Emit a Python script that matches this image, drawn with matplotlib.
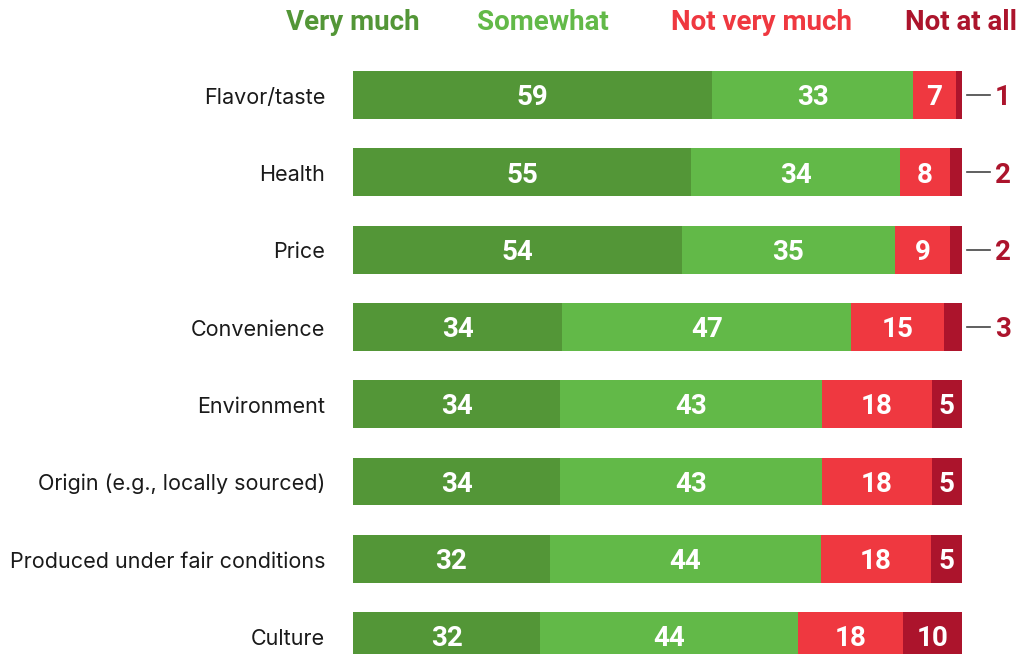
import matplotlib.pyplot as plt
import numpy as np

plt.rcParams['font.family'] = ['Roboto', 'DejaVu Sans']

# Survey answers, percent of respondents
categories = ["Flavor/taste", "Health", "Price", "Convenience", "Environment",
              "Origin (e.g., locally sourced)", "Produced under fair conditions",
              "Culture"]
very_much = [59, 55, 54, 34, 34, 34, 32, 32]
somewhat = [33, 34, 35, 47, 43, 43, 44, 44]
not_very_much = [7, 8, 9, 15, 18, 18, 18, 18]
not_at_all = [1, 2, 2, 3, 5, 5, 5, 10]

series_names = ["Very much", "Somewhat", "Not very much", "Not at all"]
colors = ["#539637", "#62b948", "#ef3840", "#ac142c"]

W, H = 1022, 654
fig = plt.figure(figsize=(W / 100, H / 100), dpi=100)

# axes spans the bar area horizontally, full height vertically
x0, x1 = 353, 962
ax = fig.add_axes([x0 / W, 0, (x1 - x0) / W, 1])
row0, step = 95, 77.3
ax.set_ylim((H - row0) / step, -row0 / step)
ax.set_xlim(0, 1)
ax.axis("off")

data = np.array([very_much, somewhat, not_very_much, not_at_all], dtype=float)
totals = data.sum(axis=0)
y = np.arange(len(categories))
left = np.zeros(len(categories))
nudge = 0.035  # push text down a touch so digits sit centred in the bar

for k, (vals, col) in enumerate(zip(data, colors)):
    widths = vals / totals
    ax.barh(y, widths, left=left, height=0.62, color=col, linewidth=0)
    for i, (v, w, l) in enumerate(zip(vals, widths, left)):
        if v >= 4:
            ax.text(l + w / 2, y[i] + nudge, f"{v:.0f}", ha="center",
                    va="center", color="white", fontsize=20, fontweight="bold")
        else:
            # tiny segments get an outside label with a leader dash
            ax.plot([1.008, 1.046], [y[i], y[i]], color="#444444", lw=1.2,
                    clip_on=False)
            ax.text(1.054, y[i] + nudge, f"{v:.0f}", ha="left", va="center",
                    color=colors[3], fontsize=20, fontweight="bold")
    left += widths

for i, name in enumerate(categories):
    ax.text(-28 / (x1 - x0), y[i] + nudge, name, ha="right", va="center",
            fontsize=15.5, color="#1a1a1a", family=["Inter", "DejaVu Sans"])

# column headers
header_x = [353, 543, 761, 961]
for name, col, hx in zip(series_names, colors, header_x):
    fig.text(hx / W, 1 - 23 / H, name, ha="center", va="center", color=col,
             fontsize=20, fontweight="bold")

fig.savefig("out.png", dpi=100)
